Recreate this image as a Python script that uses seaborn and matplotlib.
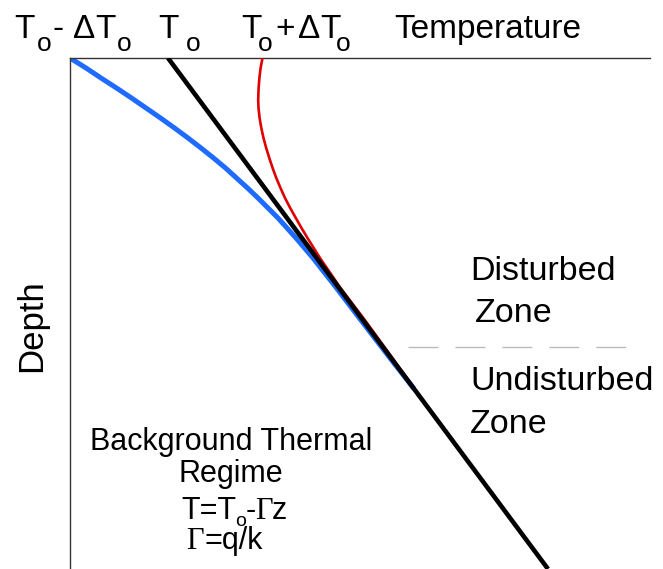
import matplotlib
matplotlib.use("Agg")
import matplotlib.pyplot as plt
import seaborn as sns
import pandas as pd

# ---- data (temperature units along x, depth units downward) ----
background_temp = [98, 478]
background_depth = [0, 511]

cool_depth = [0, 10, 20, 30, 40, 50, 60, 70, 80, 90, 100, 110, 120, 130, 140,
              150, 160, 170, 180, 200, 230, 260, 300, 330]
cool_temp = [0, 16, 31, 46.5, 61.5, 76, 90.5, 104.5, 118, 131, 143.5, 155.5,
             166.5, 177.5, 188, 198, 208, 217, 226, 243, 266.5, 289.3, 320,
             343.4]

warm_depth = [0, 10, 20, 30, 42, 50, 60, 70, 80, 90, 100, 110, 120, 130, 140,
              150, 160, 170, 180, 200, 230, 260, 300, 330]
warm_temp = [192.5, 190.6, 189.4, 188.6, 188.2, 188.5, 189.6, 191.3, 193.5,
             196.2, 199.3, 202.6, 206.3, 210.5, 215, 220.2, 225.8, 231.5, 237.5,
             250, 270.5, 293.3, 322.4, 343.4]

zone_boundary_depth = 289
zone_boundary_temp = [338, 557]

W, H = 663, 569
sns.set_style("white")
plt.rcParams['font.family'] = ['Liberation Sans', 'DejaVu Sans']
plt.rcParams['text.color'] = 'black'

fig = plt.figure(figsize=(W / 100, H / 100), dpi=100)
ax = fig.add_axes([70 / W, 0, 580 / W, 511 / H])

bg = pd.DataFrame({"T": background_temp, "z": background_depth})
cool = pd.DataFrame({"T": cool_temp, "z": cool_depth})
warm = pd.DataFrame({"T": warm_temp, "z": warm_depth})

sns.lineplot(data=cool, x="T", y="z", sort=False, estimator=None, ax=ax,
             color="#1f6bff", linewidth=3.6, solid_capstyle="round",
             solid_joinstyle="round", zorder=2)
sns.lineplot(data=warm, x="T", y="z", sort=False, estimator=None, ax=ax,
             color="#e00000", linewidth=1.9, solid_capstyle="butt",
             solid_joinstyle="round", zorder=3)
sns.lineplot(data=bg, x="T", y="z", sort=False, estimator=None, ax=ax,
             color="black", linewidth=3.3, solid_capstyle="butt", zorder=4)
ax.plot(zone_boundary_temp, [zone_boundary_depth] * 2, color="#bbbbbb",
        linewidth=1.0, dashes=(21.6, 12.2), zorder=1)

ax.set_xlim(0, 580)
ax.set_ylim(511, 0)
ax.set_xticks([])
ax.set_yticks([])
ax.set_xlabel("")
ax.set_ylabel("")
for s in ["right", "bottom"]:
    ax.spines[s].set_visible(False)
for s in ["top", "left"]:
    ax.spines[s].set_color("#333333")
    ax.spines[s].set_linewidth(1.0)


def put(x, y, s, size, family=None, ha="left", **kw):
    fam = family if family else ['Liberation Sans', 'DejaVu Sans']
    fig.text(x / W, 1 - y / H, s, fontsize=size, family=fam, ha=ha,
             va="baseline", color="black", **kw)


# top labels
TOP = 24
SUB = 19
put(14, 38, "T", TOP); put(37, 51, "o", SUB); put(53, 38, "-", TOP)
put(73, 38, "Δ", TOP); put(95, 38, "T", TOP); put(117, 51, "o", SUB)
put(158, 38, "T", TOP); put(186, 51, "o", SUB)
put(241, 38, "T", TOP); put(258, 51, "o", SUB); put(275, 38, "+", TOP)
put(298, 38, "Δ", TOP); put(320, 38, "T", TOP); put(336, 51, "o", SUB)
put(394, 38, "Temperature", TOP)

# zone labels
ZS = 24.5
put(470, 280, "Disturbed", ZS)
put(475, 322, "Zone", ZS)
put(470, 390, "Undisturbed", ZS)
put(470, 433, "Zone", ZS)

# depth label
fig.text(32 / W, 1 - 326 / H, "Depth", fontsize=25, rotation=90,
         ha="center", va="center", color="black",
         family=['Liberation Sans', 'DejaVu Sans'])

# background regime text
BS = 22
put(231, 450, "Background Thermal", BS, ha="center")
put(231, 482, "Regime", BS, ha="center")
put(181, 519, "T=T", BS); put(235, 526, "o", 14); put(246, 519, "-", BS)
put(255, 519, "Γ", BS, family=['Liberation Serif']); put(272, 519, "z", BS)
put(186, 549, "Γ", BS, family=['Liberation Serif']); put(204, 549, "=q/k", BS)

fig.savefig("out.png", dpi=100)
